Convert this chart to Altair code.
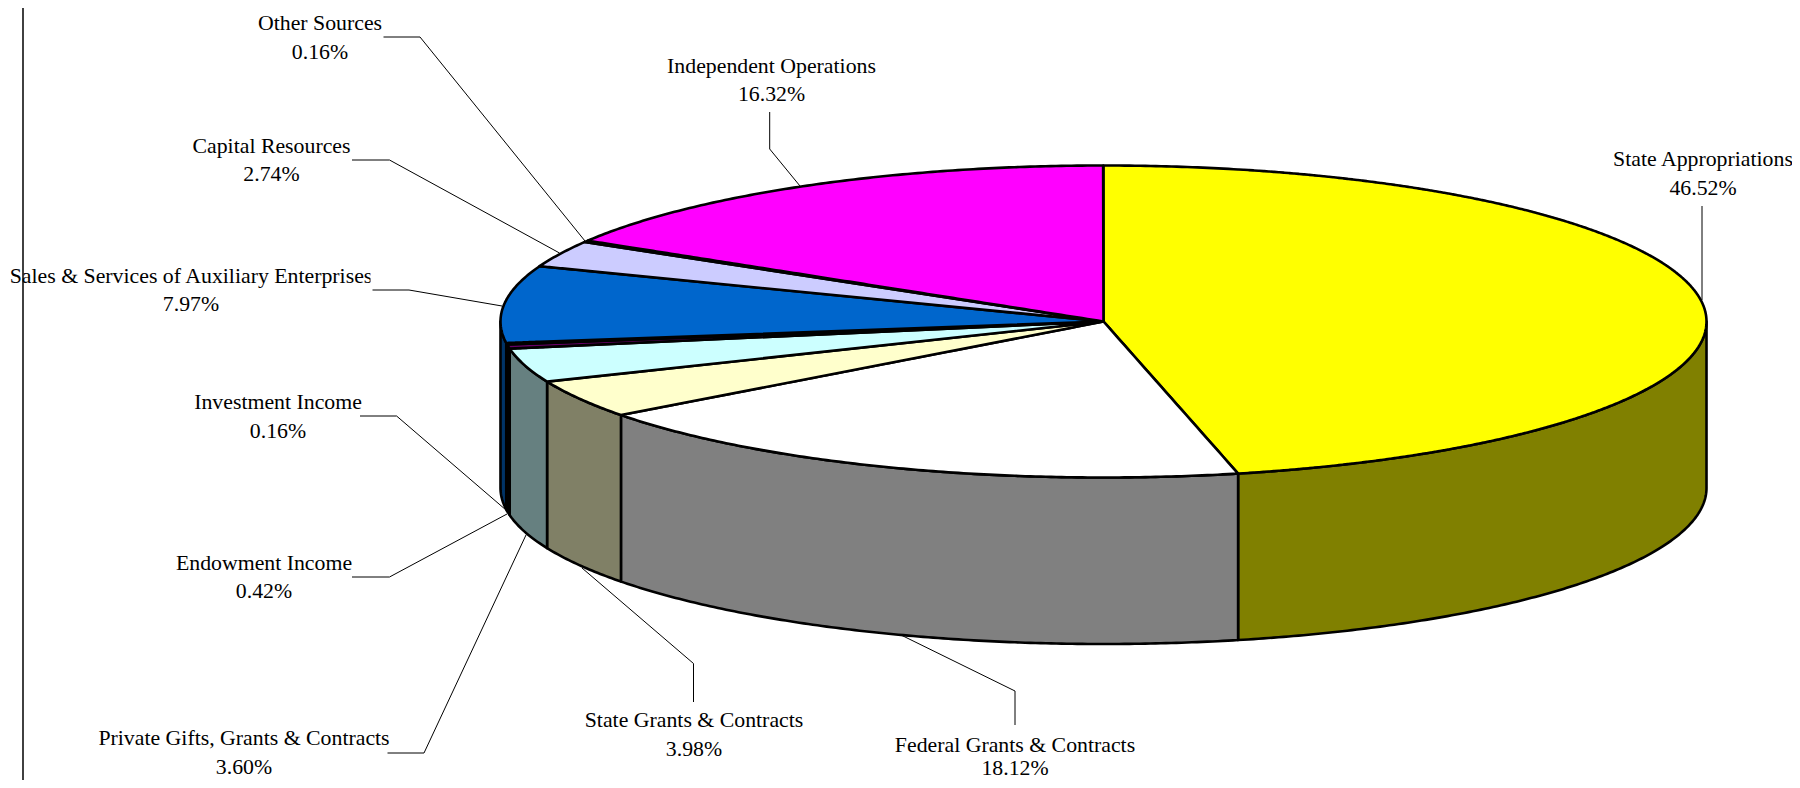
import math
import altair as alt
import pandas as pd

CATEGORIES = ["State Appropriations", "Federal Grants & Contracts", "State Grants & Contracts",
              "Private Gifts, Grants & Contracts", "Endowment Income", "Investment Income",
              "Sales & Services of Auxiliary Enterprises", "Capital Resources", "Other Sources",
              "Independent Operations"]
SHARES = [46.52, 18.12, 3.98, 3.60, 0.42, 0.16, 7.97, 2.74, 0.16, 16.32]
TOP_COLORS = ["#FFFF00", "#FFFFFF", "#FFFFCC", "#CCFFFF", "#660066", "#FF8080", "#0066CC", "#CCCCFF", "#000080", "#FF00FF"]
SIDE_COLORS = ["#808000", "#808080", "#808066", "#668080", "#330033", "#804040", "#003366", "#666680", "#000040", "#800080"]

# layout (page pixels)
CX, CY, RX, RY, DEPTH = 1103.5, 321.5, 603.0, 156.0, 166.5
W, H = 1784, 772
# small drawing offset of each slice's closing edge, in degrees, as in the source's rendering
EDGE_NUDGE = [-0.37, 0.45, 0.3, 0, 0, 0, 0, 0, 0, 0]
LABEL_X = [1703, 1015, 694, 244, 264, 278, 191, 271.5, 320, 771.5]
LABEL_Y1 = [159, 745, 720, 738, 563, 402, 276, 146, 23, 65.5]
LABEL_Y2 = [188, 767.5, 748.5, 767, 591, 431, 304, 174, 52, 94]
LEADERS = [
    [(1702, 206), (1702, 300)],
    [(1015, 725), (1015, 691), (901, 635)],
    [(693.5, 702), (693.5, 663.5), (582, 568)],
    [(387.5, 753), (424, 753), (526, 535)],
    [(352, 577), (389.5, 577), (507, 514)],
    [(360, 416), (396.6, 416), (506, 510)],
    [(372.5, 290), (409, 290), (502, 306)],
    [(352, 160), (389.5, 160), (559.5, 253)],
    [(383.5, 37), (420, 37), (585, 241)],
    [(769.7, 112), (769.7, 149), (800, 186)],
]


def arc_points(a0, a1, step=0.5):
    n = max(2, int(abs(a1 - a0) / step) + 2)
    out = []
    for i in range(n):
        a = math.radians(a0 + (a1 - a0) * i / (n - 1))
        out.append((CX + RX * math.sin(a), CY - RY * math.cos(a)))
    return out


def spans(poly):
    """Upper and lower edge of a convex polygon for area marks."""
    xs = sorted({round(p[0], 3) for p in poly})
    rows = []
    m = len(poly)
    for x in xs:
        ys = []
        for i in range(m):
            (x0, y0), (x1, y1) = poly[i], poly[(i + 1) % m]
            lo, hi = min(x0, x1), max(x0, x1)
            if lo - 0.002 <= x <= hi + 0.002:
                if abs(x1 - x0) < 1e-6:
                    ys += [y0, y1]
                else:
                    t = min(1, max(0, (x - x0) / (x1 - x0)))
                    ys.append(y0 + t * (y1 - y0))
        rows.append((x, min(ys), max(ys)))
    return rows


top_rows, wall_rows = [], []
cum = 0.0
a0 = 0.0
for i, share in enumerate(SHARES):
    cum += share
    a1 = cum / 100 * 360 + EDGE_NUDGE[i]
    for x, y0, y1 in spans([(CX, CY)] + arc_points(a0, a1)):
        top_rows.append(dict(slice=CATEGORIES[i], x=x, y=y0, y2=y1, fill=TOP_COLORS[i]))
    w0, w1 = max(a0, 90), min(a1, 270)
    if w0 < w1:
        for x, y in arc_points(w0, w1):
            wall_rows.append(dict(slice=CATEGORIES[i], x=x, y=y, y2=y + DEPTH, fill=SIDE_COLORS[i]))
    a0 = a1

label_rows = []
for i, name in enumerate(CATEGORIES):
    label_rows.append(dict(x=LABEL_X[i], y=LABEL_Y1[i], t=name))
    label_rows.append(dict(x=LABEL_X[i], y=LABEL_Y2[i], t=f"{SHARES[i]:.2f}%"))

leader_rows = []
for i, path in enumerate(LEADERS):
    for k, (x, y) in enumerate(path):
        leader_rows.append(dict(slice=CATEGORIES[i], k=k, x=x, y=y))

xs = alt.Scale(domain=[8, 8 + W], range=[0, W], nice=False, zero=False)
ys = alt.Scale(domain=[8 + H, 8], range=[H, 0], nice=False, zero=False)
X = alt.X("x:Q", scale=xs, axis=None)
Y = alt.Y("y:Q", scale=ys, axis=None)

border = alt.Chart(pd.DataFrame([dict(x=23, y=8, y2=780)])).mark_rule(color="#111111", strokeWidth=1.6).encode(
    x=X, y=Y, y2="y2:Q")
leaders = alt.Chart(pd.DataFrame(leader_rows)).mark_line(color="#000000", strokeWidth=1).encode(
    x=X, y=Y, detail="slice:N", order="k:Q")
walls = alt.Chart(pd.DataFrame(wall_rows)).mark_area(stroke="#000000", strokeWidth=2.6, strokeJoin="round", opacity=1).encode(
    x=X, y=Y, y2="y2:Q", detail="slice:N", color=alt.Color("fill:N", scale=None))
tops = alt.Chart(pd.DataFrame(top_rows)).mark_area(stroke="#000000", strokeWidth=2.6, strokeJoin="round", opacity=1).encode(
    x=X, y=Y, y2="y2:Q", detail="slice:N", color=alt.Color("fill:N", scale=None))
labels = alt.Chart(pd.DataFrame(label_rows)).mark_text(
    font="Liberation Serif", fontSize=21.8, color="#000000", baseline="middle", align="center").encode(
    x=X, y=Y, text="t:N")
mask = alt.Chart(pd.DataFrame([dict(x=370.5, x2=382, y=265, y2=287)])).mark_rect(color="#FFFFFF", opacity=1).encode(
    x=X, x2="x2:Q", y=Y, y2="y2:Q")

chart = alt.layer(border, leaders, walls, tops, labels, mask).properties(
    width=W, height=H, padding=0, autosize=alt.AutoSizeParams(type="none"),
    background="#FFFFFF"
).configure_view(stroke=None)
chart.save("out.html", embed_options={"renderer": "svg", "actions": False})
